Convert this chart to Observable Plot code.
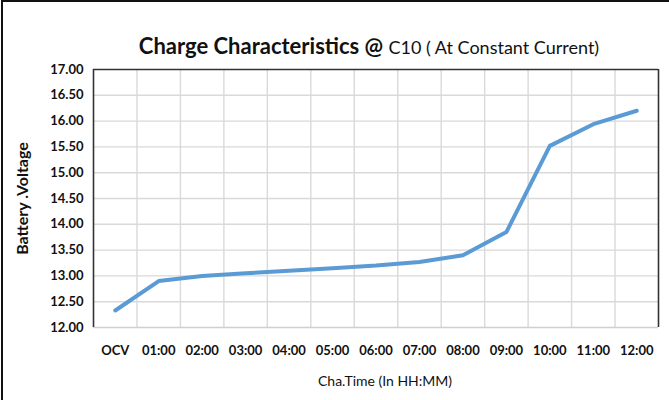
<!DOCTYPE html>
<html>
<head>
<meta charset="utf-8">
<script src="https://cdn.jsdelivr.net/npm/d3@7"></script>
<script src="https://cdn.jsdelivr.net/npm/@observablehq/plot@0.6"></script>
<style>
  html, body { margin: 0; padding: 0; background: #fff; }
  #chart { position: relative; width: 669px; height: 400px; overflow: hidden; font-family: Lato, "Open Sans", sans-serif; }
  #border { position: absolute; left: 1px; top: 0; width: 680px; height: 420px; border-top: 2px solid #111; border-left: 2px solid #111; }
  #title { position: absolute; left: 0; width: 738px; top: 32px; text-align: center; white-space: nowrap; color: #111; }
  #title .a { font-size: 22px; font-weight: bold; }
  #title .b { font-size: 18px; font-weight: normal; }
  #plot { position: absolute; left: 0; top: 0; }
</style>
</head>
<body>
<div id="chart">
  <div id="plot"></div>
  <div id="border"></div>
  <div id="title"><span class="a">Charge Characteristics @ </span><span class="b">C10 ( At Constant Current)</span></div>
</div>
<script>
const categories = ["OCV", "01:00", "02:00", "03:00", "04:00", "05:00", "06:00", "07:00", "08:00", "09:00", "10:00", "11:00", "12:00"];
const voltages = [12.33, 12.90, 13.00, 13.05, 13.10, 13.15, 13.20, 13.27, 13.40, 13.85, 15.52, 15.94, 16.20];
const yTicks = [12, 12.5, 13, 13.5, 14, 14.5, 15, 15.5, 16, 16.5, 17];
const yTitle = "Battery .Voltage";
const xTitle = "Cha.Time (In HH:MM)";

const data = categories.map((c, i) => ({i, c, v: voltages[i]}));
const idx = categories.map((c, i) => i);
const gridX = idx.slice(0, -1).map(i => i + 0.5);
const yMin = yTicks[0], yMax = yTicks[yTicks.length - 1];

const chart = Plot.plot({
  width: 669,
  height: 400,
  marginLeft: 93,
  marginRight: 11,
  marginTop: 69,
  marginBottom: 73,
  style: {fontFamily: "Lato, 'Open Sans', sans-serif", fontWeight: "bold", fontSize: "13px", color: "#111", background: "transparent"},
  x: {type: "linear", domain: [-0.5, categories.length - 0.5], ticks: idx, tickFormat: i => categories[i], tickSize: 0, tickPadding: 18, label: null},
  y: {domain: [yMin, yMax], ticks: yTicks, tickFormat: d => d.toFixed(2), tickSize: 0, tickPadding: 10, label: null},
  marks: [
    Plot.ruleX(gridX, {stroke: "#d9d9d9", strokeWidth: 1.4}),
    Plot.ruleY(yTicks.slice(1, -1), {stroke: "#d9d9d9", strokeWidth: 1.4}),
    Plot.ruleY([yMin], {stroke: "#d0d0d0", strokeWidth: 1.6}),
    Plot.ruleY([yMax], {stroke: "#333", strokeWidth: 1.6}),
    Plot.ruleX([-0.5, categories.length - 0.5], {stroke: "#333", strokeWidth: 1.6}),
    Plot.line(data, {x: "i", y: "v", stroke: "#5b9bd5", strokeWidth: 4, strokeLinecap: "round", strokeLinejoin: "round"}),
    Plot.text([yTitle], {frameAnchor: "left", textAnchor: "middle", lineAnchor: "middle", dx: -71, rotate: -90, text: d => d, fontSize: 16, fontWeight: "bold", fill: "#111"}),
    Plot.text([xTitle], {frameAnchor: "bottom", textAnchor: "middle", lineAnchor: "middle", dx: 9, dy: 54, text: d => d, fontSize: 14, fontWeight: "normal", fill: "#111"})
  ]
});
document.getElementById("plot").appendChild(chart);
</script>
</body>
</html>
